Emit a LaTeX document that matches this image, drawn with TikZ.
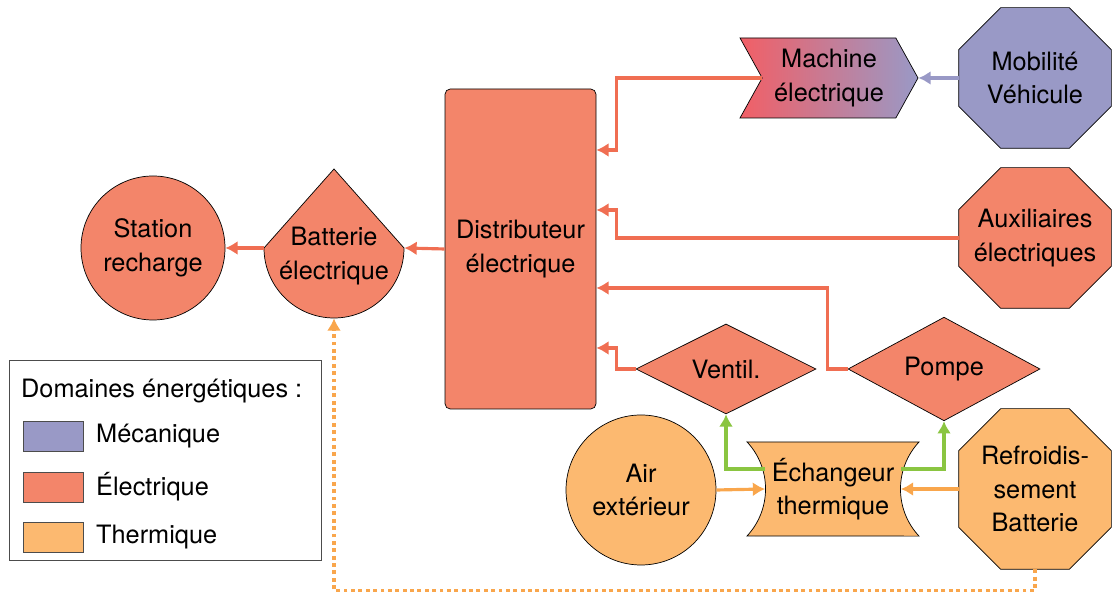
\documentclass[tikz,border=0pt]{standalone}
\usepackage{fontspec}
\setmainfont{TeX Gyre Heros}
\usetikzlibrary{shapes.geometric,shapes.symbols,arrows.meta,calc,backgrounds}
\definecolor{elec}{RGB}{243,133,106}
\definecolor{elecline}{RGB}{240,110,82}
\definecolor{meca}{RGB}{153,153,198}
\definecolor{therm}{RGB}{252,185,112}
\definecolor{thermline}{RGB}{249,166,76}
\definecolor{vert}{RGB}{138,197,65}
\definecolor{rougemach}{RGB}{242,95,102}
% octogone autour d'un noeud rectangulaire
\newcommand{\octogone}[2]{%
  \begin{pgfonlayer}{background}
    \draw[thin, fill=#2] ($(#1.north west)+(0.84,0)$) -- ($(#1.north east)+(-0.84,0)$)
      -- ($(#1.north east)+(0,-0.84)$) -- ($(#1.south east)+(0,0.84)$)
      -- ($(#1.south east)+(-0.84,0)$) -- ($(#1.south west)+(0.84,0)$)
      -- ($(#1.south west)+(0,0.84)$) -- ($(#1.north west)+(0,-0.84)$) -- cycle;
  \end{pgfonlayer}}
\begin{document}
\begin{tikzpicture}[
    every node/.style={font=\fontsize{14.4}{19}\selectfont, align=center},
    bloc/.style={draw=black, thin, inner sep=0pt},
    octo/.style={inner sep=0pt, minimum width=3.04cm, minimum height=2.8cm},
    losange/.style={bloc, diamond, fill=elec},
    fleche/.style={line width=1.8pt, -{Latex[length=7pt,width=8pt]}},
    fleche elec/.style={fleche, elecline},
    fleche therm/.style={fleche, thermline},
    fleche meca/.style={fleche, meca},
    fleche vert/.style={fleche, vert},
    pastille/.style={draw=black!70, thin, minimum width=1.2cm, minimum height=0.6cm}
  ]
  \useasboundingbox (0,0) rectangle (22.26,11.9);

  % partie electrique
  \node[bloc, circle, fill=elec, minimum size=2.88cm] (station) at (3.06,6.94) {Station\\recharge};
  \fill[elec] (6.68,8.52) -- (5.28,6.94) arc[start angle=180, end angle=360, radius=1.4] -- cycle;
  \draw[thin] (6.68,8.52) -- (5.28,6.94) arc[start angle=180, end angle=360, radius=1.4] -- cycle;
  \node[circle, inner sep=0pt, minimum size=2.8cm] (batt) at (6.68,6.94) {};
  \node (battlbl) at (6.68,6.78) {Batterie\\électrique};
  \node[bloc, fill=elec, rounded corners=3pt, minimum width=3.02cm, minimum height=6.4cm]
    (distrib) at (10.41,6.92) {Distributeur\\électrique};
  \node[bloc, signal, signal from=west, signal to=east, signal pointer angle=122,
    left color=rougemach, right color=meca, minimum width=3.56cm, minimum height=1.6cm]
    (machine) at (16.58,10.34) {Machine\\électrique};
  \node[octo] (mobil) at (20.70,10.34) {Mobilité\\Véhicule};
  \octogone{mobil}{meca}
  \node[octo] (aux) at (20.70,7.14) {Auxiliaires\\électriques};
  \octogone{aux}{elec}
  \node[losange, minimum width=3.6cm, minimum height=1.8cm] (ventil) at (14.52,4.52) {Ventil.};
  \node[losange, minimum width=3.84cm, minimum height=1.88cm] (pompe) at (18.88,4.52) {Pompe};

  % partie thermique
  \node[bloc, circle, fill=therm, minimum size=3cm] (air) at (12.82,2.10) {Air\\extérieur};
  \draw[thin, fill=therm] (14.94,3.06) -- (18.38,3.06)
    arc[start angle=137, end angle=223, radius=1.38]
    -- (14.94,1.18) arc[start angle=-43, end angle=43, radius=1.38] -- cycle;
  \node[inner sep=0pt, minimum width=2.70cm, minimum height=1.88cm] (exch) at (16.66,2.12)
    {Échangeur\\thermique};
  \node[octo, minimum height=3.2cm] (refr) at (20.70,2.12) {Refroidis-\\sement\\Batterie};
  \octogone{refr}{therm}

  % liaisons
  \coordinate (dA) at ($(distrib.east)+(0,1.98)$);
  \coordinate (dB) at ($(distrib.east)+(0,0.78)$);
  \coordinate (dC) at ($(distrib.east)+(0,-0.78)$);
  \coordinate (dD) at ($(distrib.east)+(0,-1.98)$);
  \draw[fleche elec] (machine.west) -| ($(dA)+(0.4,0)$) -- (dA);
  \draw[fleche elec] (aux.west) -| ($(dB)+(0.4,0)$) -- (dB);
  \draw[fleche elec] (pompe.west) -- ++(-0.4,0) |- (dC);
  \draw[fleche elec] (ventil.west) -| ($(dD)+(0.4,0)$) -- (dD);
  \draw[fleche elec] (distrib.west) -- (batt.east);
  \draw[fleche elec] (batt.west) -- (station.east);
  \draw[fleche meca] (mobil.west) -- (machine.east);
  \draw[fleche therm] (air.east) -- (exch.west);
  \draw[fleche therm] (refr.west) -- (exch.east);
  \draw[fleche vert] ([yshift=0.4cm]exch.west) -| (ventil.south);
  \draw[fleche vert] ([yshift=0.4cm]exch.east) -| (pompe.south);
  \draw[fleche therm, dash pattern=on 2.2pt off 2pt] (refr.south) -- ++(0,-0.42) -| (batt.south);

  % legende
  \draw[black!70, thin] (0.18,0.70) rectangle (6.42,4.70);
  \node[anchor=west] (legtitre) at (0.30,4.08) {Domaines énergétiques :};
  \node[pastille, fill=meca] (legmeca) at (1.06,3.18) {};
  \node[anchor=west] (legmecatxt) at (1.80,3.18) {Mécanique};
  \node[pastille, fill=elec] (legelec) at (1.06,2.16) {};
  \node[anchor=west] (legelectxt) at (1.80,2.16) {Électrique};
  \node[pastille, fill=therm] (legtherm) at (1.06,1.16) {};
  \node[anchor=west] (legthermtxt) at (1.80,1.16) {Thermique};
\end{tikzpicture}
\end{document}
